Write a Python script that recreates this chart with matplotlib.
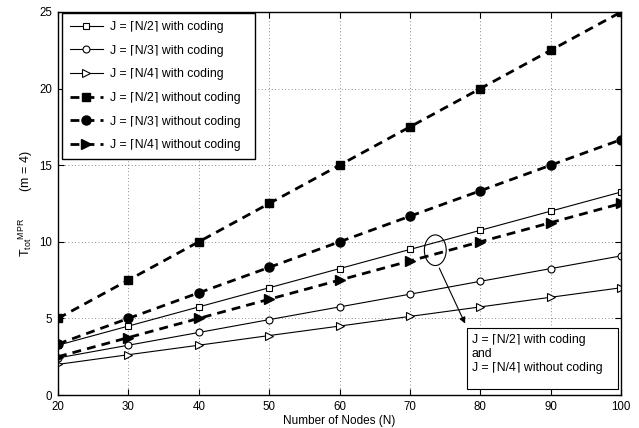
import matplotlib
matplotlib.use("Agg")
import matplotlib.pyplot as plt
from matplotlib.patches import Ellipse, Rectangle

plt.rcParams['font.family'] = ['Liberation Sans', 'DejaVu Sans']
plt.rcParams['mathtext.fontset'] = 'custom'
plt.rcParams['mathtext.rm'] = 'Liberation Sans'
plt.rcParams['mathtext.it'] = 'Liberation Sans'

nodes = [20, 30, 40, 50, 60, 70, 80, 90, 100]
half_coding = [3.25, 4.5, 5.75, 7.0, 8.25, 9.5, 10.75, 12.0, 13.25]
third_coding = [2.42, 3.25, 4.08, 4.92, 5.75, 6.58, 7.42, 8.25, 9.08]
quarter_coding = [2.0, 2.63, 3.25, 3.88, 4.5, 5.13, 5.75, 6.38, 7.0]
half_nocoding = [5.0, 7.5, 10.0, 12.5, 15.0, 17.5, 20.0, 22.5, 25.0]
third_nocoding = [3.33, 5.0, 6.67, 8.33, 10.0, 11.67, 13.33, 15.0, 16.67]
quarter_nocoding = [2.5, 3.75, 5.0, 6.25, 7.5, 8.75, 10.0, 11.25, 12.5]

labels = [
    "J = \u2308N/2\u2309 with coding",
    "J = \u2308N/3\u2309 with coding",
    "J = \u2308N/4\u2309 with coding",
    "J = \u2308N/2\u2309 without coding",
    "J = \u2308N/3\u2309 without coding",
    "J = \u2308N/4\u2309 without coding",
]
note = "J = \u2308N/2\u2309 with coding\nand\nJ = \u2308N/4\u2309 without coding"
xticks = [20, 30, 40, 50, 60, 70, 80, 90, 100]
yticks = [0, 5, 10, 15, 20, 25]

fig = plt.figure(figsize=(6.39, 4.28), dpi=100)
ax = fig.add_axes([0.0908, 0.0771, 0.8812, 0.8949])

dash = (0, (3.2, 2.2))
ax.plot(nodes, half_coding, '-', color='black', lw=0.8, marker='s', ms=4,
        mfc='white', mec='black', mew=0.8, label=labels[0])
ax.plot(nodes, third_coding, '-', color='black', lw=0.8, marker='o', ms=5,
        mfc='white', mec='black', mew=0.8, label=labels[1])
ax.plot(nodes, quarter_coding, '-', color='black', lw=0.8, marker='>', ms=5.5,
        mfc='white', mec='black', mew=0.8, label=labels[2])
ax.plot(nodes, half_nocoding, color='black', lw=2.0, ls=dash, marker='s', ms=5.2,
        mfc='black', mec='black', label=labels[3])
ax.plot(nodes, third_nocoding, color='black', lw=2.0, ls=dash, marker='o', ms=6.5,
        mfc='black', mec='black', label=labels[4])
ax.plot(nodes, quarter_nocoding, color='black', lw=2.0, ls=dash, marker='>', ms=7.5,
        mfc='black', mec='black', label=labels[5])

ax.set_xlim(20, 100)
ax.set_ylim(0, 25)
ax.set_xticks(xticks)
ax.set_yticks(yticks)
ax.tick_params(direction='in', top=True, right=True, labelsize=8.3, length=4, width=0.8, pad=4)
ax.grid(True, ls=(0, (1, 3)), color='black', lw=0.6, alpha=0.6)
for s in ax.spines.values():
    s.set_linewidth(1.0)

ax.set_xlabel("Number of Nodes (N)", fontsize=8.5, labelpad=2)
ax.set_ylabel("T$_{\\mathrm{tot}}$$^{\\mathrm{MPR}}$        (m = 4)", fontsize=9, labelpad=3)

leg = ax.legend(loc='upper left', bbox_to_anchor=(0.007, 0.0, 0.343, 0.997), mode='expand',
                fontsize=8.8, handlelength=2.7, labelspacing=0.95,
                fancybox=False, framealpha=1, edgecolor='black', borderpad=0.65,
                borderaxespad=0.0, handletextpad=0.55)
leg.get_frame().set_linewidth(1.0)

ell = Ellipse((73.6, 9.45), 3.1, 2.0, fill=False, ec='black', lw=0.8)
ax.add_patch(ell)
ax.annotate("", xy=(78.0, 4.5), xytext=(74.0, 8.45),
            arrowprops=dict(arrowstyle='-|>', color='black', lw=0.8, mutation_scale=9))
ax.add_patch(Rectangle((78.1, 0.4), 21.4, 4.0, fc='white', ec='black', lw=0.8, zorder=4))
ax.text(78.8, 2.68, note, fontsize=8.8, va='center', ha='left', linespacing=1.2, zorder=5)

fig.savefig("out.png", dpi=100)
